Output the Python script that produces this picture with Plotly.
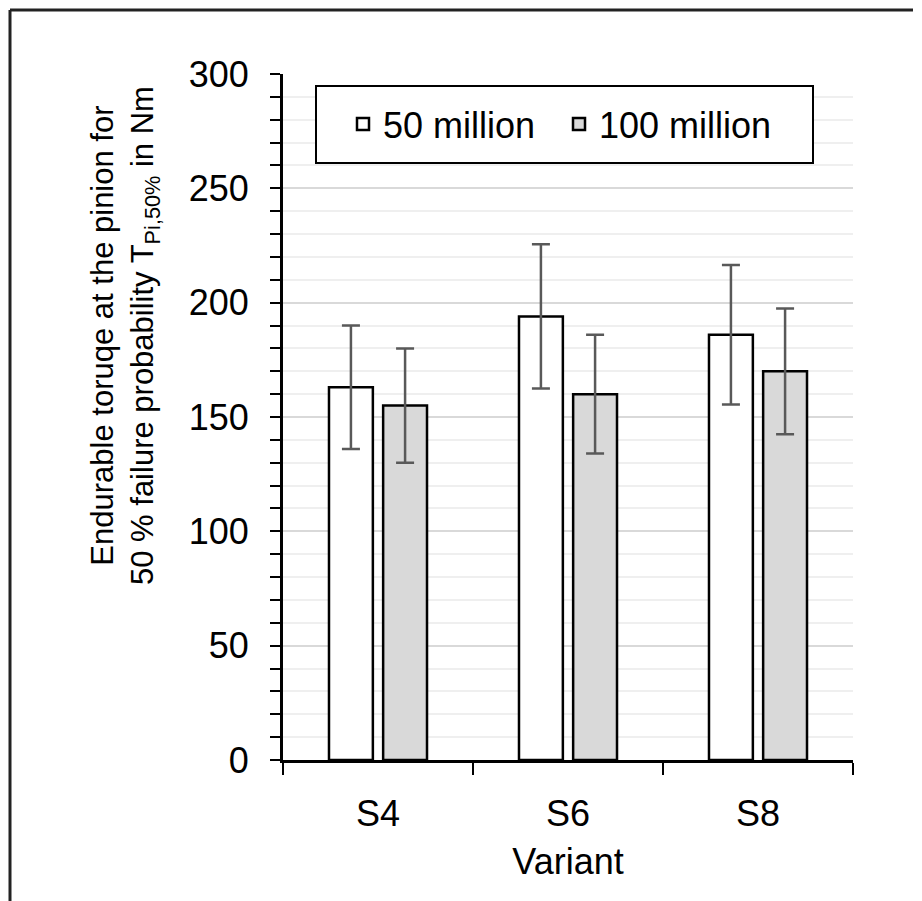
import plotly.graph_objects as go

# ---- data ----
variants = ["S4", "S6", "S8"]
series_names = ["50 million", "100 million"]
torque_50m = [163, 194, 186]
err_50m = [27, 31.5, 30.5]
torque_100m = [155, 160, 170]
err_100m = [25, 26, 27.5]

# ---- layout geometry ----
# The page body has an 8px default margin, so the figure is drawn 8px in.
OFF = 8
W, H = 922 - OFF, 901 - OFF
SL, SR, ST, SB = 283, 853, 74, 760   # plot area edges in screen pixels


def px(x):  # screen x -> paper
    return (x - SL) / (SR - SL)


def py(y):  # screen y -> paper
    return (SB - y) / (SB - ST)


FONT = "Arial, Liberation Sans, sans-serif"
FS = 36

fig = go.Figure()
fig.add_trace(go.Bar(
    name=series_names[0], x=variants, y=torque_50m,
    marker=dict(color="white", line=dict(color="black", width=2.5)),
    error_y=dict(type="data", array=err_50m, color="#595959", thickness=2.5, width=9),
))
fig.add_trace(go.Bar(
    name=series_names[1], x=variants, y=torque_100m,
    marker=dict(color="#d9d9d9", line=dict(color="black", width=2.5)),
    error_y=dict(type="data", array=err_100m, color="#595959", thickness=2.5, width=9),
))

fig.update_layout(
    width=W, height=H,
    margin=dict(l=SL - OFF, r=W - (SR - OFF), t=ST - OFF, b=H - (SB - OFF), pad=0),
    paper_bgcolor="white", plot_bgcolor="white",
    font=dict(family=FONT, size=FS, color="black"),
    barmode="group", bargap=0.43, bargroupgap=0.19,
    showlegend=True,
    legend=dict(
        orientation="h", x=px(343), y=py(124), xanchor="left", yanchor="middle",
        bgcolor="rgba(0,0,0,0)", borderwidth=0,
        font=dict(family=FONT, size=FS, color="black"),
        itemwidth=30, traceorder="normal", entrywidth=171,
    ),
)

fig.update_xaxes(
    type="category", showline=True, linecolor="black", linewidth=3,
    ticks="outside", tickson="boundaries", ticklen=12, tickwidth=2, tickcolor="black",
    ticklabelstandoff=20, showgrid=False, mirror=False,
    title=dict(text="Variant", standoff=16, font=dict(family=FONT, size=FS)),
)
fig.update_yaxes(
    range=[0, 300], dtick=50, tick0=0, showline=True, linecolor="black", linewidth=3,
    ticks="outside", ticklen=10, tickwidth=2, tickcolor="black",
    ticklabelstandoff=14,
    showgrid=True, gridcolor="#d9d9d9", gridwidth=2,
    zeroline=False,
    minor=dict(dtick=10, ticks="outside", ticklen=10, tickwidth=2, tickcolor="black",
               showgrid=True, gridcolor="#efefef", gridwidth=2),
)

# y-axis title as annotation (positioned above axis centre like the reference)
fig.add_annotation(
    text="Endurable toruqe at the pinion for<br>50 % failure probability T<sub>Pi,50%</sub> in Nm",
    xref="paper", yref="paper", x=px(125), y=py(336),
    xanchor="center", yanchor="middle", textangle=-90, showarrow=False,
    font=dict(family=FONT, size=31, color="black"), align="center",
)

# legend frame
fig.add_shape(type="rect", xref="paper", yref="paper",
              x0=px(316), x1=px(813), y0=py(163), y1=py(86),
              line=dict(color="black", width=2), fillcolor="white", layer="above")

# outer frame (left and top edges)
fig.add_shape(type="line", xref="paper", yref="paper",
              x0=px(10), x1=px(10), y0=py(10), y1=py(905),
              line=dict(color="#222222", width=3))
fig.add_shape(type="line", xref="paper", yref="paper",
              x0=px(10), x1=px(913), y0=py(10), y1=py(10),
              line=dict(color="#222222", width=3))

fig.write_html("out.html")
